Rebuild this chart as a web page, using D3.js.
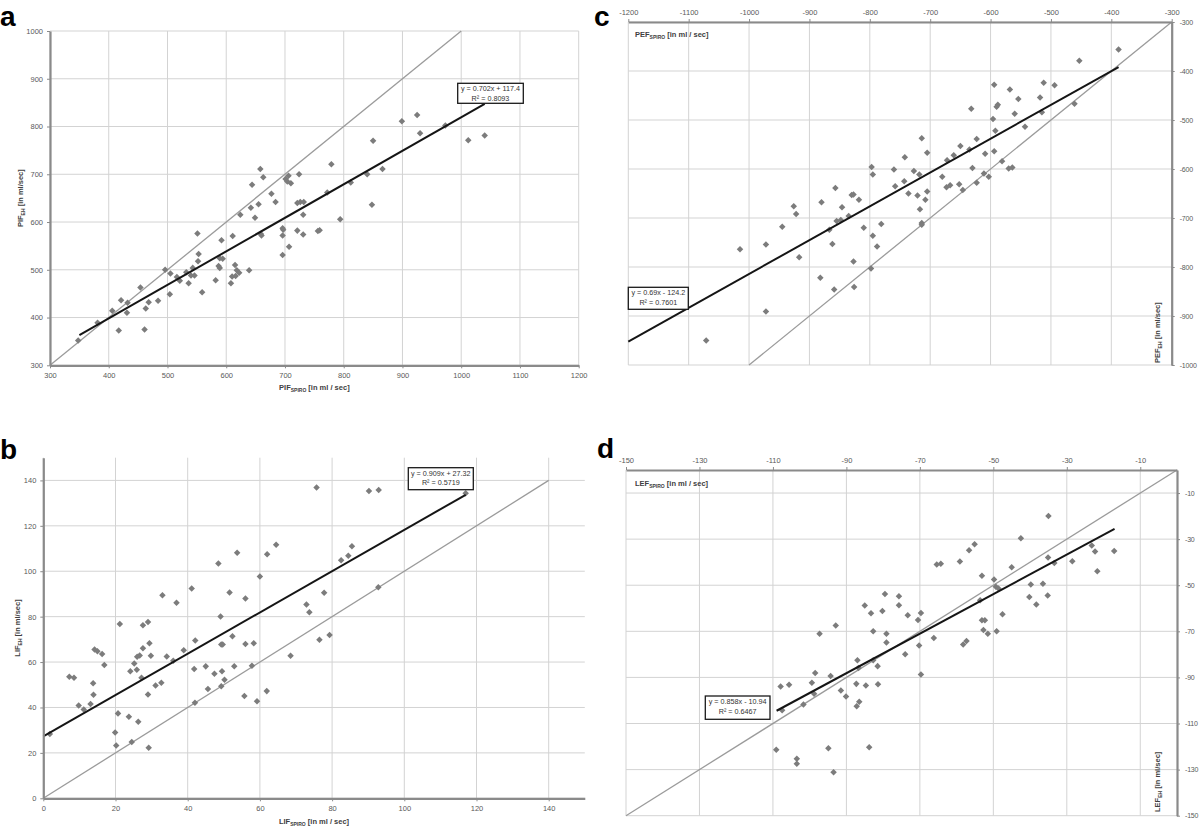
<!DOCTYPE html>
<html>
<head>
<meta charset="utf-8">
<script src="https://cdn.jsdelivr.net/npm/d3@7"></script>
<style>
  html, body { margin: 0; padding: 0; background: #ffffff; }
  svg { display: block; }
</style>
</head>
<body>
<svg id="chart" width="1200" height="828"></svg>
<script>
// ---------------- DATA ----------------
// Panel a: PIF
const pifSpiro = [348,381,406,417,421,432,431,454,461,463,468,484,496,504,505,516,521,532,536,540,543,546,551,553,552,559,
  658,663,644,706,701,704,710,724,779,677,684,642,655,624,649,721,726,732,731,772,812,794,696,697,696,721,731,756,759,659,660,707,696,611,592,589,594,587,589,615,618,622,616,610,639,582,608,
  840,848,850,866,899,925,930,973,1012,1040];
const pifEh = [352,389,414,373,436,431,410,463,375,419,432,435,500,449,492,485,477,495,472,488,504,488,576,533,518,453,
  711,694,678,697,690,685,681,700,721,659,642,630,637,615,609,640,642,642,615,662,683,606,587,584,572,582,574,581,583,575,572,548,531,571,562,524,523,508,504,510,499,494,487,486,499,478,472,
  700,636,770,711,811,824,786,802,771,781];
const pifTicksX = [300,400,500,600,700,800,900,1000,1100,1200];
const pifTicksY = [300,400,500,600,700,800,900,1000];
const pifFit = [0.702, 117.4, 350, 1040];           // slope, intercept, x start, x end
const pifEq = ["y = 0.702x + 117.4", "R² = 0.8093"];

// Panel b: LIF
const lifSpiro = [1.8,7.2,8.5,9.8,11.2,13.1,13.8,13.9,14.2,15.0,16.3,16.9,21.2,19.9,20.2,20.7,23.7,24.1,25.2,25.9,26.0,26.7,26.3,24.5,27.2,27.6,29.0,27.6,29.4,29.8,29.0,29.2,31.1,32.7,33.0,34.2,36.0,36.9,38.9,41.1,41.8,42.1,42.0,45.0,45.6,47.4,48.5,49.1,49.3,49.7,49.5,49.3,50.2,51.6,52.4,52.9,53.7,
  56.0,56.0,58.3,57.8,55.7,59.2,60.0,62.0,61.9,64.5,68.5,
  75.7,90.2,92.9,85.5,84.5,82.5,77.8,72.9,73.7,92.8,76.5,79.3,117.0];
const lifEh = [28.3,53.5,53.1,40.9,39.1,41.5,50.7,45.6,65.5,64.8,63.6,58.7,76.8,29.0,23.2,37.4,35.9,56.0,59.4,56.6,62.3,62.9,33.7,24.8,53.1,76.2,77.6,66.1,68.3,62.8,45.7,22.3,49.7,50.9,89.4,62.5,60.6,86.1,65.2,92.4,56.9,69.5,42.1,58.1,48.1,54.8,103.4,80.1,67.7,67.7,56.0,49.4,52.2,90.6,71.4,58.2,108.1,
  88.0,68.0,68.3,58.4,45.0,42.7,97.7,107.5,47.2,111.7,62.8,
  136.9,135.3,135.8,111.0,106.8,104.8,90.5,85.3,81.9,92.9,69.8,71.9,134.3];
const lifTicksX = [0,20,40,60,80,100,120,140];
const lifTicksY = [0,20,40,60,80,100,120,140];
const lifFit = [0.909, 27.32, 0, 117];
const lifEq = ["y = 0.909x + 27.32", "R² = 0.5719"];

// Panel c: PEF
const pefSpiro = [-945,-926,-922,-880,-857,-846,-855,-848,-867,-862,-835,-830,-827,-818,-810,-797,-795,-795,-788,-781,-760,-758,-743,-742,-736,-727,-721,-718,-714,-705,-705,-708,-717,-714,-714,-680,-673,-672,-667,-661,-652,-650,-646,-635,-632,-630,-623,-623,-609,-611,-603,-594,-596,-592,-594,-590,-588,-581,-570,-564,-568,-560,-554,
  -543,-518,-515,-512,-494,-461,-453,-388,
  -1071,-1015,-972,-972,-917,-882,-859,-826,-827,-798];
const pefEh = [-718,-676,-692,-668,-639,-678,-706,-704,-724,-753,-696,-653,-652,-663,-720,-596,-611,-736,-758,-712,-601,-635,-625,-576,-650,-604,-654,-611,-537,-567,-646,-663,-682,-710,-714,-616,-637,-582,-633,-572,-631,-553,-643,-560,-477,-598,-539,-628,-569,-609,-616,-428,-498,-522,-564,-473,-469,-584,-599,-597,-438,-487,-457,
  -514,-454,-484,-424,-429,-467,-379,-356,
  -950,-764,-754,-891,-780,-822,-846,-841,-789,-803];
const pefTicksX = [-1200,-1100,-1000,-900,-800,-700,-600,-500,-400,-300];
const pefTicksY = [-1000,-900,-800,-700,-600,-500,-400,-300];
const pefFit = [0.69, -124.2, -1200, -388];
const pefEq = ["y = 0.69x - 124.2", "R² = 0.7601"];

// Panel d: LEF
const lefSpiro = [-109.1,-103.5,-103.5,-94.9,-83.8,-93.5,
  -107.9,-105.6,-107.5,-101.7,-99.4,-98.8,-98.5,-97.3,-94.3,-92.9,-91.5,-90.1,-87.3,-87.2,-86.5,-87.0,-86.7,-84.7,-85.0,-83.3,-82.7,-82.7,-81.5,-81.4,-80.2,-79.5,-79.1,-79.1,-75.7,-75.7,-74.0,-73.3,-70.5,-69.7,-70.2,-69.7,-66.2,-65.4,-64.3,-59.1,-58.2,-57.3,-53.1,-53.6,-53.1,-52.3,-52.7,-51.5,-49.8,-49.3,-48.6,-49.1,-47.5,
  -35.0,-42.5,-45.0,-56.6,-55.1,-35.1,-33.4,-28.5,-39.8,-36.5,-40.2,-38.3,-35.2,-23.2,-22.3,-21.7,-17.1];
const lefEh = [-121.4,-125.3,-127.5,-120.7,-120.3,-131.2,
  -93.9,-93.2,-104.2,-101.7,-92.3,-97.1,-88.1,-71.0,-89.4,-67.5,-95.7,-98.3,-92.8,-102.5,-100.6,-82.6,-85.9,-93.5,-58.8,-62.2,-70.0,-82.6,-85.1,-93.0,-61.2,-53.8,-71.0,-74.9,-54.8,-58.7,-79.9,-63.0,-65.1,-62.0,-76.1,-88.7,-72.9,-41.0,-40.7,-39.7,-75.7,-74.2,-45.9,-56.5,-65.2,-65.2,-69.4,-71.0,-47.5,-50.7,-51.4,-70.0,-62.6,
  -20.0,-29.6,-42.2,-34.8,-32.2,-38.0,-40.4,-39.6,-49.7,-49.4,-55.1,-58.4,-54.5,-32.8,-35.4,-43.9,-35.1];
const lefTicksX = [-150,-130,-110,-90,-70,-50,-30,-10];
const lefTicksY = [-150,-130,-110,-90,-70,-50,-30,-10];
const lefFit = [0.858, -10.94, -109, -17];
const lefEq = ["y = 0.858x - 10.94", "R² = 0.6467"];

// ---------------- DRAWING ----------------
const FONT = "'Liberation Sans', Arial, sans-serif";
const svg = d3.select("#chart");

function addTitle(textSel, parts) {
  textSel.append("tspan").text(parts[0]);
  textSel.append("tspan").attr("font-size", 5).attr("dy", 2).text(parts[1]);
  textSel.append("tspan").attr("dy", -2).text(parts[2]);
}

function drawPanel(p) {
  const g = svg.append("g");
  const x = d3.scaleLinear().domain(p.xDomain).range(p.xRange);
  const y = d3.scaleLinear().domain(p.yDomain).range(p.yRange);

  // gridlines
  g.append("g").selectAll("line").data(p.xTicks).join("line")
    .attr("x1", d => x(d)).attr("x2", d => x(d))
    .attr("y1", y(p.yDomain[0])).attr("y2", y(p.yDomain[1]))
    .attr("stroke", "#d3d3d3").attr("stroke-width", 1);
  g.append("g").selectAll("line").data(p.yTicks).join("line")
    .attr("y1", d => y(d)).attr("y2", d => y(d))
    .attr("x1", x(p.xDomain[0])).attr("x2", x(p.xDomain[1]))
    .attr("stroke", "#d3d3d3").attr("stroke-width", 1);

  // identity line
  g.append("line")
    .attr("x1", x(p.identity[0])).attr("y1", y(p.identity[0]))
    .attr("x2", x(p.identity[1])).attr("y2", y(p.identity[1]))
    .attr("stroke", "#9b9b9b").attr("stroke-width", 1.3);

  // points
  const pts = p.xs.map((v, i) => [v, p.ys[i]]);
  g.append("g").selectAll("rect").data(pts).join("rect")
    .attr("x", -2.3).attr("y", -2.3).attr("width", 4.6).attr("height", 4.6)
    .attr("transform", d => `translate(${x(d[0])},${y(d[1])}) rotate(45)`)
    .attr("fill", "#7c7c7c");

  // regression line
  const [m, b, x0, x1] = p.fit;
  g.append("line")
    .attr("x1", x(x0)).attr("y1", y(m * x0 + b))
    .attr("x2", x(x1)).attr("y2", y(m * x1 + b))
    .attr("stroke", "#151515").attr("stroke-width", 2);

  // axes
  const fmt = d => String(d);
  let xAxis, yAxis, xPos, yPos;
  if (p.xAxisAt === "bottom") { xAxis = d3.axisBottom(x); xPos = y(p.yDomain[0]); }
  else { xAxis = d3.axisTop(x); xPos = y(p.yDomain[1]); }
  if (p.yAxisAt === "left") { yAxis = d3.axisLeft(y); yPos = x(p.xDomain[0]); }
  else { yAxis = d3.axisRight(y); yPos = x(p.xDomain[1]); }
  xAxis.tickValues(p.xTicks).tickFormat(fmt).tickSize(3).tickSizeOuter(0).tickPadding(4);
  yAxis.tickValues(p.yTicks).tickFormat(fmt).tickSize(3).tickSizeOuter(0).tickPadding(p.yAxisAt === "left" ? 4 : 5);
  const gx = g.append("g").attr("transform", `translate(0,${xPos})`).call(xAxis);
  const gy = g.append("g").attr("transform", `translate(${yPos},0)`).call(yAxis);
  [gx, gy].forEach(a => {
    a.select(".domain").attr("stroke", "#8a8a8a").attr("stroke-width", 2.2);
    a.selectAll(".tick line").attr("stroke", "#8a8a8a");
    a.selectAll(".tick text").attr("fill", "#595959").attr("font-size", 7.5).attr("font-family", FONT);
  });
  if (p.yAxisAt === "right") {
    gy.selectAll(".tick text").attr("font-size", 7).attr("letter-spacing", -0.2);
  }

  // axis titles
  if (p.titlesOutside) {
    const cx = (p.xRange[0] + p.xRange[1]) / 2;
    const cy = (p.yRange[0] + p.yRange[1]) / 2;
    addTitle(g.append("text").attr("x", cx).attr("y", p.xTitleY).attr("text-anchor", "middle")
      .attr("font-size", 7.5).attr("font-weight", "bold").attr("fill", "#404040").attr("font-family", FONT), p.xTitle);
    addTitle(g.append("text").attr("transform", `translate(${p.yTitleX},${cy}) rotate(-90)`).attr("text-anchor", "middle")
      .attr("font-size", 7.5).attr("font-weight", "bold").attr("fill", "#404040").attr("font-family", FONT), p.yTitle);
  } else {
    addTitle(g.append("text").attr("x", p.xTitlePos[0]).attr("y", p.xTitlePos[1]).attr("text-anchor", "start")
      .attr("font-size", 7.5).attr("font-weight", "bold").attr("fill", "#404040").attr("font-family", FONT), p.xTitle);
    addTitle(g.append("text").attr("transform", `translate(${p.yTitlePos[0]},${p.yTitlePos[1]}) rotate(-90)`).attr("text-anchor", "start")
      .attr("font-size", 7.5).attr("font-weight", "bold").attr("fill", "#404040").attr("font-family", FONT), p.yTitle);
  }

  // equation box
  const [bx, by, bw, bh] = p.eqBox;
  g.append("rect").attr("x", bx).attr("y", by).attr("width", bw).attr("height", bh)
    .attr("fill", "#ffffff").attr("stroke", "#1a1a1a").attr("stroke-width", 1.3);
  g.selectAll("text.eq").data(p.eq).join("text").attr("class", "eq")
    .attr("x", bx + bw / 2).attr("y", (d, i) => by + 8 + i * 9.5)
    .attr("text-anchor", "middle").attr("font-size", 7.2).attr("fill", "#333")
    .attr("font-family", FONT).text(d => d);

  // panel letter
  svg.append("text").attr("x", p.letterPos[0]).attr("y", p.letterPos[1])
    .attr("font-size", 28).attr("font-weight", "bold").attr("fill", "#000")
    .attr("font-family", FONT).text(p.letter);
}

drawPanel({
  xs: pifSpiro, ys: pifEh, xDomain: [300, 1200], yDomain: [300, 1000],
  xRange: [50, 578.7], yRange: [365.3, 31], xTicks: pifTicksX, yTicks: pifTicksY,
  xAxisAt: "bottom", yAxisAt: "left", identity: [300, 1000], fit: pifFit, eq: pifEq,
  eqBox: [457.7, 83.3, 65.6, 20], titlesOutside: true, xTitleY: 390, yTitleX: 23,
  xTitle: ["PIF", "SPIRO", " [in ml / sec]"], yTitle: ["PIF", "EH", " [in ml/sec]"],
  letter: "a", letterPos: [0, 26]
});

drawPanel({
  xs: lifSpiro, ys: lifEh, xDomain: [0, 150], yDomain: [0, 150],
  xRange: [43.3, 584.8], yRange: [798.3, 457.7], xTicks: lifTicksX, yTicks: lifTicksY,
  xAxisAt: "bottom", yAxisAt: "left", identity: [0, 140], fit: lifFit, eq: lifEq,
  eqBox: [408.3, 467.7, 65, 22], titlesOutside: true, xTitleY: 824, yTitleX: 20,
  xTitle: ["LIF", "SPIRO", " [in ml / sec]"], yTitle: ["LIF", "EH", " [in ml/sec]"],
  letter: "b", letterPos: [0, 459]
});

drawPanel({
  xs: pefSpiro, ys: pefEh, xDomain: [-1200, -300], yDomain: [-1000, -300],
  xRange: [628.3, 1171.7], yRange: [365, 22], xTicks: pefTicksX, yTicks: pefTicksY,
  xAxisAt: "top", yAxisAt: "right", identity: [-1000, -300], fit: pefFit, eq: pefEq,
  eqBox: [628.3, 287.3, 60, 22], titlesOutside: false,
  xTitlePos: [635, 37], yTitlePos: [1160, 363],
  xTitle: ["PEF", "SPIRO", " [in ml / sec]"], yTitle: ["PEF", "EH", " [in ml/sec]"],
  letter: "c", letterPos: [594, 26]
});

drawPanel({
  xs: lefSpiro, ys: lefEh, xDomain: [-150, 0], yDomain: [-150, 0],
  xRange: [626, 1177], yRange: [815.7, 470], xTicks: lefTicksX, yTicks: lefTicksY,
  xAxisAt: "top", yAxisAt: "right", identity: [-150, 0], fit: lefFit, eq: lefEq,
  eqBox: [705.3, 696, 64.7, 23.3], titlesOutside: false,
  xTitlePos: [635, 486], yTitlePos: [1160, 812],
  xTitle: ["LEF", "SPIRO", " [in ml / sec]"], yTitle: ["LEF", "EH", " [in ml/sec]"],
  letter: "d", letterPos: [597, 458]
});
</script>
</body>
</html>
